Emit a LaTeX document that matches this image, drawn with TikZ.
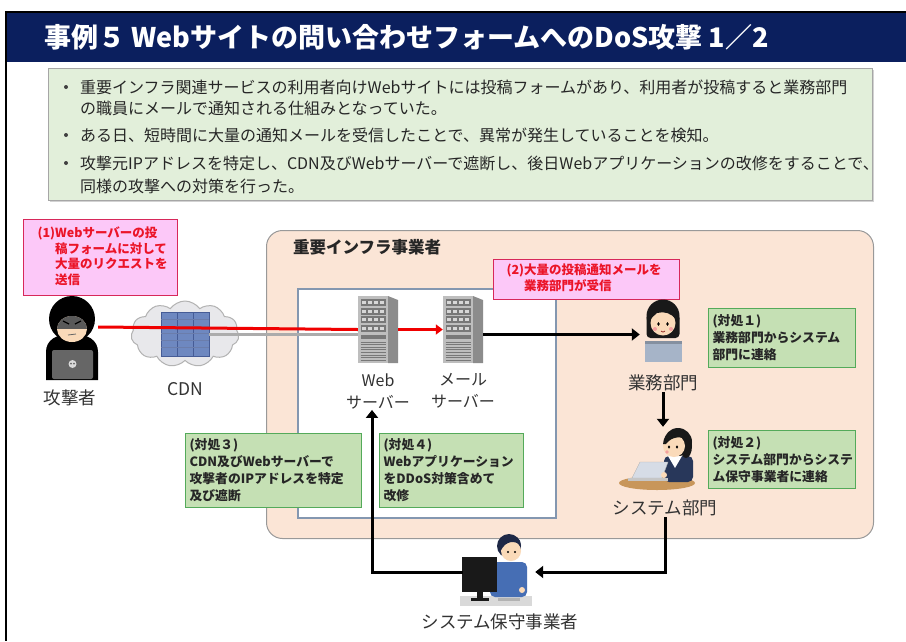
\documentclass[tikz,border=0pt]{standalone}
\usepackage{fontspec}
\setmainfont{Noto Sans CJK JP}
\usetikzlibrary{arrows.meta,shapes.symbols,shadows,calc}

\definecolor{navy}{RGB}{11,31,94}
\definecolor{bulletbg}{RGB}{226,239,218}
\definecolor{orangefill}{RGB}{251,229,214}
\definecolor{innerblue}{RGB}{132,151,176}
\definecolor{greenfill}{RGB}{197,224,180}
\definecolor{boxgreen}{RGB}{84,170,90}
\definecolor{pinkfill}{RGB}{252,200,248}
\definecolor{pinkedge}{RGB}{215,40,90}
\definecolor{pinktextc}{RGB}{235,20,40}
\definecolor{labelgray}{RGB}{50,50,50}
\definecolor{attackred}{RGB}{240,0,0}
\definecolor{cloudfill}{RGB}{232,232,235}
\definecolor{rackblue}{RGB}{110,136,192}
\definecolor{rackedge}{RGB}{70,92,150}
\definecolor{srvfront}{RGB}{190,190,190}
\definecolor{srvside}{RGB}{140,140,140}
\definecolor{srvdark}{RGB}{120,120,120}
\definecolor{srvlight}{RGB}{215,215,215}
\definecolor{skin}{RGB}{250,218,185}
\definecolor{hair}{RGB}{25,25,25}
\definecolor{hairnavy}{RGB}{30,40,70}
\definecolor{blush}{RGB}{245,160,160}
\definecolor{laptopblue}{RGB}{166,180,200}
\definecolor{laptopgray}{RGB}{214,220,230}
\definecolor{deskbrown}{RGB}{200,150,90}
\definecolor{vestnavy}{RGB}{40,55,90}
\definecolor{shirtblue}{RGB}{70,110,180}

% one rack server, top-left corner at (#1,#2), 40 x 67
\newcommand{\drawserver}[2]{%
  \begin{scope}[shift={(#1,#2)}]
    \fill[srvside] (30,0) -- (40,4) -- (40,67) -- (30,67) -- cycle;
    \fill[srvfront] (0,0) rectangle (30,67);
    \foreach \ri in {0,...,3} {
      \fill[srvdark] (2.5,3+\ri*8.5) rectangle (27.5,10+\ri*8.5);
      \foreach \ci in {0,...,3}
        \fill[srvlight] (4+\ci*6,5+\ri*8.5) rectangle (8+\ci*6,8+\ri*8.5);
    }
    \fill[srvdark] (2.5,39) rectangle (27.5,42.5);
    \foreach \ri in {0,...,7}
      \draw[srvdark,line width=0.7pt] (2.5,46+\ri*2.6) -- (27.5,46+\ri*2.6);
  \end{scope}}

\tikzset{
  titletxt/.style={font=\fontsize{27}{30}\selectfont\bfseries, text=white, inner sep=0pt, anchor=west},
  bodytxt/.style={font=\fontsize{16}{18}\selectfont, text=black!85, inner sep=0pt, anchor=west},
  lbl/.style={font=\fontsize{17.5}{20}\selectfont, text=labelgray, inner sep=1pt},
  srvlbl/.style={font=\fontsize{16}{22}\selectfont, text=labelgray, inner sep=1pt, align=center},
  greenbox/.style={draw=boxgreen, line width=1.2pt, fill=greenfill, align=left, inner xsep=4pt, inner ysep=3pt,
    font=\fontsize{12.8}{17}\selectfont\bfseries, text=black!85, anchor=north west},
  pinkbox/.style={draw=pinkedge, line width=1.2pt, fill=pinkfill, anchor=north west},
  pinktext/.style={font=\fontsize{12.5}{15.5}\selectfont\bfseries, text=pinktextc, align=left, anchor=north west, inner sep=0pt},
  anchorbox/.style={inner sep=0pt},
  flow/.style={line width=3pt, -{Triangle[length=8pt,width=12pt]}},
  attack/.style={line width=3pt, draw=attackred},
}

\begin{document}
\begin{tikzpicture}[x=1pt,y=-1pt]
\useasboundingbox (0,0) rectangle (906,641);
\fill[white] (0,0) rectangle (906,641);

% ---- header ----
\fill[navy] (6,12) rectangle (906,62);
\draw[line width=2.5pt] (906,12) -- (6,12) -- (6,641);
\node[titletxt] (title) at (44,37) {事例５ Webサイトの問い合わせフォームへのDoS攻撃 1／2};

% ---- summary ----
\node[draw=gray!70, fill=bulletbg, minimum width=824pt, minimum height=132pt, anchor=north west,
      drop shadow={shadow xshift=2pt, shadow yshift=-2pt, opacity=0.35}] (summary) at (48,68) {};
\foreach \yy in {87,135,163} \fill[black!75] (66,\yy) circle (2);
\node[bodytxt] (s1)  at (80,87)  {重要インフラ関連サービスの利用者向けWebサイトには投稿フォームがあり、利用者が投稿すると業務部門};
\node[bodytxt] (s1b) at (80,108) {の職員にメールで通知される仕組みとなっていた。};
\node[bodytxt] (s2)  at (80,135) {ある日、短時間に大量の通知メールを受信したことで、異常が発生していることを検知。};
\node[bodytxt] (s3)  at (80,163) {攻撃元IPアドレスを特定し、CDN及びWebサーバーで遮断し、後日Webアプリケーションの改修をすることで、};
\node[bodytxt] (s3b) at (80,186) {同様の攻撃への対策を行った。};

% ---- operator area ----
\node[draw=gray!80, line width=1pt, fill=orangefill, rounded corners=16pt, minimum width=607pt, minimum height=308pt,
      anchor=north west] (infra) at (266,230) {};
\node[font=\fontsize{16.5}{20}\selectfont\bfseries, text=black!85, inner sep=0pt, anchor=west] (infraT) at (293,247) {重要インフラ事業者};
\node[draw=innerblue, line width=1.5pt, fill=white, minimum width=258pt, minimum height=229pt, anchor=north west] (sysbox) at (297,288) {};

% ---- callouts ----
\node[pinkbox, minimum width=154pt, minimum height=76pt] (call1) at (23,219) {};
\node[pinktext] (call1t) at (55,227) {\llap{(1)}Webサーバーの投\\稿フォームに対して\\大量のリクエストを\\送信};
\node[pinkbox, minimum width=186pt, minimum height=40pt] (call2) at (493,259) {};
\node[pinktext] (call2t) at (524,264) {\llap{(2)}大量の投稿通知メールを\\業務部門が受信};

% ---- attacker ----
\node[anchorbox, minimum width=52pt, minimum height=90pt] (atk) at (72,327) {};
\fill[black] (46,380) -- (46,352) .. controls (46,340) and (56,334) .. (72,334) .. controls (88,334) and (98,340) .. (98,352) -- (98,380) -- cycle;
\fill[black] (72,319) circle (23);
\begin{scope}
  \clip (72,329) ellipse (15 and 13);
  \fill[skin] (55,314) rectangle (89,344);
  \fill[black!65] (55,314) rectangle (89,329);
\end{scope}
\draw[black, line width=1.2pt] (63,321) -- (69,324) (81,321) -- (75,324);
\draw[black!60, line width=0.8pt] (68,335) -- (76,334);
\fill[black!60, rounded corners=2pt] (52,350) rectangle (93,379);
\fill[black!15] (72.5,364) circle (4);
\fill[black!60] (71,363.5) circle (1) (74,363.5) circle (1);
\node[lbl] (atkLabel) at (70,398) {攻撃者};

% ---- CDN ----
\node[cloud, cloud puffs=11, cloud puff arc=110, aspect=1.6, draw=gray!60, line width=1pt, fill=cloudfill,
      minimum width=108pt, minimum height=66pt] (cdn) at (185,334) {};
\node[fill=rackblue, draw=rackedge, minimum width=48pt, minimum height=44pt, inner sep=0pt] (rack) at (185,334) {};
\foreach \xx in {177,193} \draw[rackedge, line width=0.8pt] (\xx,312) -- (\xx,356);
\foreach \yy in {319,326,333,340,347} \draw[rackedge!80, line width=0.6pt] (161,\yy) -- (209,\yy);
\node[lbl] (cdnLabel) at (185,389) {CDN};

% ---- servers ----
\node[anchorbox, minimum width=40pt, minimum height=67pt] (web) at (378,329.5) {};
\node[anchorbox, minimum width=40pt, minimum height=67pt] (mail) at (463,329.5) {};
\draw[line width=3pt, draw=gray!65] (rack.east) -- (rack.east -| web.west);
\draw[attack] (atk.east) -- (web.west);
\drawserver{358}{296}
\drawserver{443}{296}
\draw[attack, -{Triangle[length=7pt,width=10pt]}] (web.east) -- (mail.west);
\node[srvlbl] (webLabel) at (378,391) {Web\\サーバー};
\node[srvlbl] (mailLabel) at (463,391) {メール\\サーバー};

% ---- business department ----
\node[anchorbox, minimum width=46pt, minimum height=62pt] (gyomu) at (663,331) {};
\fill[hair] (663,316) circle (16.5);
\fill[hair, rounded corners=4pt] (646.5,314) rectangle (679.5,338);
\fill[laptopblue] (645,341) rectangle (682,362);
\fill[laptopblue!80!black] (645,341) rectangle (682,344);
\fill[skin] (663,323) circle (12.5);
\fill[hair] (650,320) .. controls (650,304) and (676,304) .. (676,320) .. controls (672,313) and (664,311) .. (657,313) .. controls (654,315) and (652,318) .. (650,320) -- cycle;
\fill (658.5,324) ellipse (1.3 and 1.9);
\fill (667.5,324) ellipse (1.3 and 1.9);
\fill[blush] (655,329) circle (2);
\fill[blush] (671,329) circle (2);
\draw[line width=0.6pt, red!50!black] (661,331) .. controls (662,332.5) and (664,332.5) .. (665,331);
\node[lbl] (gyomuLabel) at (663,383) {業務部門};

% ---- system department ----
\node[anchorbox, minimum width=78pt, minimum height=62pt] (sysdept) at (660,458) {};
\fill[deskbrown] (657,483) ellipse (38 and 7);
\fill[vestnavy, rounded corners=5pt] (664,456) rectangle (693,482);
\fill[white] (668,456) -- (682,456) -- (675,468) -- cycle;
\fill[hair] (678,442) circle (14);
\fill[hair] (686,446) ellipse (6 and 12);
\fill[skin] (674,446) circle (11);
\fill[hair] (663,444) .. controls (663,430) and (684,428) .. (689,440) .. controls (681,436) and (672,436) .. (666,444) -- cycle;
\fill (669,447) ellipse (1.2 and 1.7);
\fill (677,447) ellipse (1.2 and 1.7);
\fill[blush] (667,452) circle (1.8);
\fill[laptopgray, draw=gray!60] (632,478) -- (640,462) -- (668,462) -- (662,478) -- cycle;
\fill[gray!45] (628,478) rectangle (668,481);
\fill[skin] (664,475) circle (3);
\node[lbl] (sysLabel) at (665,508) {システム部門};

% ---- maintenance contractor ----
\node[anchorbox, minimum width=72pt, minimum height=50pt] (hoshu) at (499,572) {};
\fill[gray!30] (460,596) rectangle (532,606);
\fill[shirtblue, rounded corners=5pt] (490,562) rectangle (527,597);
\fill[hairnavy] (509,546) circle (12);
\fill[skin] (511,551) circle (10);
\fill[hairnavy] (499,548) .. controls (498,533) and (520,531) .. (521,545) .. controls (514,540) and (506,541) .. (501,550) -- cycle;
\fill (508,552) circle (1.1);
\fill (515,552) circle (1.1);
\fill[black!90] (462,557) rectangle (497,592);
\fill[black!90] (477,592) rectangle (483,599);
\fill[black!90] (471,598) rectangle (489,601);
\fill[gray!60] (498,598) rectangle (520,601);
\fill[skin] (522,590) circle (3);
\node[lbl] (hoshuLabel) at (500,622) {システム保守事業者};

% ---- flow arrows ----
\draw[flow] ([yshift=-5pt]mail.east) -- ([yshift=-5pt]mail.east -| gyomu.west);
\draw[flow] (gyomuLabel.south) -- (gyomuLabel.south |- sysdept.north);
\draw[flow] (sysLabel.south) |- (hoshu.east);
\draw[flow] (hoshu.west) -| ([xshift=-6pt]webLabel.south);

% ---- countermeasures ----
\node[greenbox, text width=139pt, minimum height=59pt] (act1) at (708,308) {(対処１)\\業務部門からシステム\\部門に連絡};
\node[greenbox, text width=139pt, minimum height=58pt] (act2) at (708,430) {(対処２)\\システム部門からシステ\\ム保守事業者に連絡};
\node[greenbox, text width=168pt, minimum height=74pt] (act3) at (185,433) {(対処３)\\CDN及びWebサーバーで\\攻撃者のIPアドレスを特定\\及び遮断};
\node[greenbox, text width=136pt, minimum height=74pt] (act4) at (379,433) {(対処４)\\Webアプリケーション\\をDDoS対策含めて\\改修};
\end{tikzpicture}
\end{document}
